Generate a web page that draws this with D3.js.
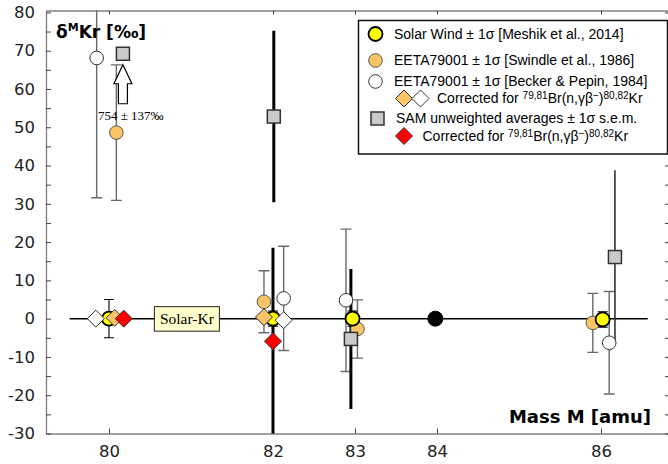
<!DOCTYPE html>
<html>
<head>
<meta charset="utf-8">
<script src="https://cdn.jsdelivr.net/npm/d3@7"></script>
<style>
  body { margin: 0; background: #fff; }
  svg { display: block; font-family: "DejaVu Sans", Verdana, sans-serif; }
</style>
</head>
<body>
<div id="container"></div>
<script>
// tick labels
const xTicks = [80, 82, 83, 84, 86]
const yTicks = [-30, -25, -20, -15, -10, -5, 0, 5, 10, 15, 20, 25, 30, 35, 40, 45, 50, 55, 60, 65, 70, 75, 80]

// solar wind (Meshik et al., 2014)
const solarX = [80, 82, 82.97, 86.02]
const solarY = [0, 0, 0, -0.2]
const solarErr = [5, 2, 2, 2]

// EETA79001 (Swindle et al., 1986)
const swindleX = [80.09, 81.89, 83.03, 85.90]
const swindleY = [48.6, 4.4, -2.7, -1.1]
const swindleErr = [17.7, 8.1, 7.6, 7.7]

// EETA79001 (Becker & Pepin, 1984)
const beckerX = [79.85, 82.13, 82.89, 86.10]
const beckerY = [68.1, 5.3, 4.8, -6.3]
const beckerErr = [36.5, 13.6, 18.6, 13.4]

// Br corrected EETA values
const swindleCorrX = [80.07, 81.89]
const swindleCorrY = [0.2, 0.4]
const beckerCorrX = [79.84, 82.13]
const beckerCorrY = [0, -0.4]

// SAM unweighted averages (80Kr is off scale: 754 +- 137)
const samX = [80.17, 82.01, 82.95, 86.17]
const samY = [754, 52.8, -5.3, 16.1]
const samErr = [137, 22.4, 18.3, 22.7]
const offScaleY = 69.2

// SAM Br corrected
const samCorrX = [80.18, 82.0]
const samCorrY = [0, -5.9]
const samCorrErr = [0, 24.4]

// normalising isotope
const refMass = 84
const refX = 83.98

const zeroLine = [79.52, 86.57]
const solarKrBoxX = 80.95

const W = 668, H = 464
const svg = d3.select('#container').append('svg')
  .attr('width', W)
  .attr('height', H)

const x = d3.scaleLinear().domain([79.232, 86.817]).range([46, 668])
const y = d3.scaleLinear().domain([-30, 80.5]).range([433.5, 10.5])

svg.append('clipPath').attr('id', 'plot')
  .append('rect')
  .attr('x', 46).attr('y', 10.5)
  .attr('width', 623).attr('height', 423)

const zip = (xs, ys, es) => xs.map((d, i) => ({ x: d, y: ys[i], e: es ? es[i] : 0 }))
const solar = zip(solarX, solarY, solarErr)
const swindle = zip(swindleX, swindleY, swindleErr)
const becker = zip(beckerX, beckerY, beckerErr)
const swindleCorr = zip(swindleCorrX, swindleCorrY)
const beckerCorr = zip(beckerCorrX, beckerCorrY)
const sam = zip(samX, samY, samErr)
const samCorr = zip(samCorrX, samCorrY, samCorrErr)

const yPos = v => v > 80.5 ? y(offScaleY) : y(v)

// frame
const frameColor = '#808080'
svg.append('g')
  .attr('transform', 'translate(0,433.5)')
  .call(d3.axisBottom(x).tickValues(xTicks).tickSize(-5).tickSizeOuter(0).tickPadding(12))
  .call(g => g.select('.domain').attr('stroke', frameColor).attr('stroke-width', 1.3))
  .call(g => g.selectAll('.tick line').attr('stroke', '#444'))
  .call(g => g.selectAll('.tick text').attr('font-size', 16.5).attr('fill', '#222')
    .attr('font-family', '"DejaVu Sans", Verdana, sans-serif'))

svg.append('g')
  .attr('transform', 'translate(46,0)')
  .call(d3.axisLeft(y).tickValues(yTicks).tickSize(-5).tickSizeOuter(0).tickPadding(11)
    .tickFormat(d => d % 10 === 0 ? String(d) : ''))
  .call(g => g.select('.domain').attr('stroke', frameColor).attr('stroke-width', 1.3))
  .call(g => g.selectAll('.tick line').attr('stroke', '#444'))
  .call(g => g.selectAll('.tick text').attr('font-size', 16.5).attr('fill', '#222')
    .attr('font-family', '"DejaVu Sans", Verdana, sans-serif'))

svg.append('g')
  .attr('transform', 'translate(0,10.5)')
  .call(d3.axisTop(x).tickValues(xTicks).tickSize(-4).tickSizeOuter(0).tickFormat(''))
  .call(g => g.select('.domain').attr('stroke', frameColor).attr('stroke-width', 1.3))
  .call(g => g.selectAll('.tick line').attr('stroke', '#444'))

svg.append('g')
  .attr('transform', 'translate(669,0)')
  .call(d3.axisRight(y).tickValues(yTicks).tickSize(-4).tickSizeOuter(0).tickFormat(''))
  .call(g => g.select('.domain').attr('stroke', frameColor))
  .call(g => g.selectAll('.tick line').attr('stroke', '#444'))

// zero line
svg.append('line')
  .attr('x1', x(zeroLine[0])).attr('x2', x(zeroLine[1]))
  .attr('y1', y(0)).attr('y2', y(0))
  .attr('stroke', '#000')
  .attr('stroke-width', 1.5)

// Solar-Kr label box
const boxG = svg.append('g').attr('transform', `translate(${x(solarKrBoxX)},${y(0)})`)
boxG.append('rect')
  .attr('x', -32.5).attr('y', -12)
  .attr('width', 65).attr('height', 24.5)
  .attr('fill', '#ffffcc')
  .attr('stroke', '#222')
  .attr('stroke-width', 1)
boxG.append('text')
  .attr('text-anchor', 'middle')
  .attr('dy', '0.35em')
  .attr('font-family', '"Liberation Serif", "Times New Roman", serif')
  .attr('font-size', 15.5)
  .text('Solar-Kr')

const bars = svg.append('g').attr('clip-path', 'url(#plot)')

function errorBars (data, color, width, cap) {
  const g = bars.append('g').attr('stroke', color).attr('stroke-width', width)
  data.filter(d => d.e > 0 && d.y < 80.5).forEach(d => {
    g.append('line')
      .attr('x1', x(d.x)).attr('x2', x(d.x))
      .attr('y1', y(d.y + d.e)).attr('y2', y(d.y - d.e))
    if (cap) {
      [d.y + d.e, d.y - d.e].forEach(v => {
        g.append('line')
          .attr('x1', x(d.x) - cap).attr('x2', x(d.x) + cap)
          .attr('y1', y(v)).attr('y2', y(v))
      })
    }
  })
}

errorBars(becker, '#6a6a6a', 1.4, 5.5)
errorBars(swindle, '#6a6a6a', 1.4, 5.5)
errorBars(solar, '#000', 1.1, 5)
errorBars(sam.filter(d => d.x < 85), '#000', 3, 0)
errorBars(sam.filter(d => d.x > 85), '#333', 1.6, 0)
errorBars(samCorr, '#000', 3, 0)

const marks = svg.append('g')

function circles (data, r, fill, stroke, sw) {
  marks.append('g').selectAll('circle')
    .data(data)
    .enter()
    .append('circle')
    .attr('cx', d => x(d.x))
    .attr('cy', d => yPos(d.y))
    .attr('r', r)
    .attr('fill', fill)
    .attr('stroke', stroke)
    .attr('stroke-width', sw)
}

function diamonds (data, fill) {
  marks.append('g').selectAll('path')
    .data(data)
    .enter()
    .append('path')
    .attr('d', 'M0,-8.5L8.5,0L0,8.5L-8.5,0Z')
    .attr('transform', d => `translate(${x(d.x)},${yPos(d.y)})`)
    .attr('fill', fill)
    .attr('stroke', '#333')
    .attr('stroke-width', 1)
}

circles(becker, 6.8, '#fff', '#333', 1)
circles(swindle, 6.8, '#fbc467', '#555', 1)
circles(solar, 7, '#ffff00', '#000', 1.8)
circles([{ x: refX, y: 0 }], 7.5, '#000', '#000', 1)
diamonds(beckerCorr, '#fff')
diamonds(swindleCorr, '#fbc467')
diamonds(samCorr, '#ff0000')

marks.append('g').selectAll('rect')
  .data(sam)
  .enter()
  .append('rect')
  .attr('x', d => x(d.x) - 6.5)
  .attr('y', d => yPos(d.y) - 6.5)
  .attr('width', 13)
  .attr('height', 13)
  .attr('fill', '#cacaca')
  .attr('stroke', '#333')
  .attr('stroke-width', 1.5)

// off-scale arrow for SAM 80Kr
const off = sam.filter(d => d.y > 80.5)
off.forEach(d => {
  const ax = x(d.x)
  const ay = yPos(d.y)
  svg.append('path')
    .attr('d', `M${ax},${ay + 11}L${ax + 9},${ay + 30}L${ax + 4.5},${ay + 30}L${ax + 4.5},${ay + 50}` +
      `L${ax - 4.5},${ay + 50}L${ax - 4.5},${ay + 30}L${ax - 9},${ay + 30}Z`)
    .attr('fill', '#fff')
    .attr('stroke', '#000')
    .attr('stroke-width', 1.2)
  svg.append('text')
    .attr('x', ax - 25)
    .attr('y', ay + 66)
    .attr('font-family', '"Liberation Serif", "Times New Roman", serif')
    .attr('font-size', 13)
    .text(`${d.y} \u00b1 ${d.e}\u2030`)
})

// axis titles
const yTitle = svg.append('text')
  .attr('x', 56)
  .attr('y', 38)
  .attr('font-weight', 'bold')
  .attr('font-size', 17)
yTitle.append('tspan').text('\u03b4')
yTitle.append('tspan').attr('font-size', 11).attr('dy', -7).text('M')
yTitle.append('tspan').attr('dy', 7).text('Kr [\u2030]')

svg.append('text')
  .attr('x', 651)
  .attr('y', 423)
  .attr('text-anchor', 'end')
  .attr('font-weight', 'bold')
  .attr('font-size', 18)
  .text('Mass M [amu]')

// legend
const lg = svg.append('g')
  .attr('font-family', '"Liberation Sans", Arial, sans-serif')
  .attr('font-size', 14)
lg.append('rect')
  .attr('x', 358.5).attr('y', 20.5)
  .attr('width', 309).attr('height', 133.5)
  .attr('fill', '#fff')
  .attr('stroke', '#111')
  .attr('stroke-width', 1.5)

lg.append('circle').attr('cx', 375.5).attr('cy', 34).attr('r', 7)
  .attr('fill', '#ffff00').attr('stroke', '#000').attr('stroke-width', 1.8)
lg.append('circle').attr('cx', 375.5).attr('cy', 60.5).attr('r', 6.8)
  .attr('fill', '#fbc467').attr('stroke', '#555')
lg.append('circle').attr('cx', 375.5).attr('cy', 81.5).attr('r', 6.8)
  .attr('fill', '#fff').attr('stroke', '#333')
lg.append('path').attr('d', 'M0,-8.5L8.5,0L0,8.5L-8.5,0Z')
  .attr('transform', 'translate(404,98.5)').attr('fill', '#fbc467').attr('stroke', '#333')
lg.append('path').attr('d', 'M0,-8.5L8.5,0L0,8.5L-8.5,0Z')
  .attr('transform', 'translate(420.5,98.5)').attr('fill', '#fff').attr('stroke', '#333')
lg.append('rect').attr('x', 371).attr('y', 112).attr('width', 13).attr('height', 13)
  .attr('fill', '#cacaca').attr('stroke', '#333').attr('stroke-width', 1.5)
lg.append('path').attr('d', 'M0,-8.5L8.5,0L0,8.5L-8.5,0Z')
  .attr('transform', 'translate(404,136)').attr('fill', '#ff0000').attr('stroke', '#333')

function legendText (tx, ty, parts) {
  const t = lg.append('text').attr('x', tx).attr('y', ty).attr('dy', '0.35em')
  parts.forEach(p => {
    if (typeof p === 'string') {
      t.append('tspan').text(p)
    } else {
      t.append('tspan').attr('font-size', 10).attr('baseline-shift', '40%').text(p.sup)
    }
  })
}

legendText(394, 34, ['Solar Wind \u00b1 1\u03c3  [Meshik et al., 2014]'])
legendText(394, 60.5, ['EETA79001 \u00b1 1\u03c3 [Swindle et al., 1986]'])
legendText(394, 81.5, ['EETA79001 \u00b1 1\u03c3 [Becker & Pepin, 1984]'])
legendText(437, 98.5, ['Corrected for ', { sup: '79,81' }, 'Br(n,\u03b3\u03b2', { sup: '\u2212' }, ')', { sup: '80,82' }, 'Kr'])
legendText(396, 118.5, ['SAM unweighted averages \u00b1 1\u03c3 s.e.m.'])
legendText(422.5, 136, ['Corrected for ', { sup: '79,81' }, 'Br(n,\u03b3\u03b2', { sup: '\u2212' }, ')', { sup: '80,82' }, 'Kr'])
</script>
</body>
</html>
